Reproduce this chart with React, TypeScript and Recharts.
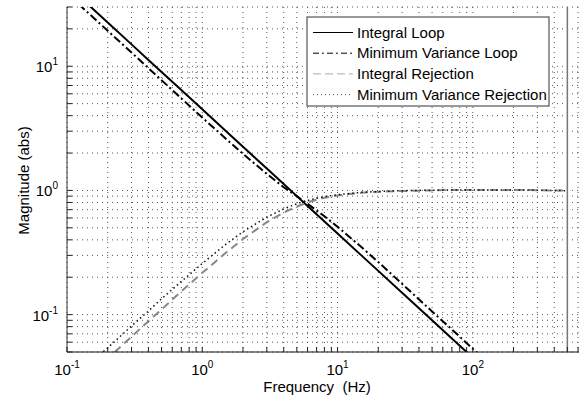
import { LineChart, Line, XAxis, YAxis, CartesianGrid, ReferenceLine } from 'recharts'

// frequency grid (Hz) and magnitudes
const freq = [0.1, 0.15, 0.2, 0.3, 0.4, 0.5, 0.7, 1, 1.5, 2, 3, 4, 5, 6, 7, 8, 10, 15, 20, 30, 50, 70, 100, 150, 200, 300, 500]
const integralLoop = [45, 30, 22.5, 15, 11.25, 9, 6.43, 4.5, 3, 2.25, 1.5, 1.125, 0.9, 0.75, 0.643, 0.563, 0.45, 0.3, 0.225, 0.15, 0.09, 0.0643, 0.045, 0.03, 0.0225, 0.015, 0.009]
const minVarLoop = [38.6, 25.7, 19.3, 12.9, 9.65, 7.72, 5.51, 3.86, 2.6, 1.97, 1.36, 1.06, 0.9, 0.78, 0.69, 0.62, 0.51, 0.35, 0.265, 0.177, 0.106, 0.076, 0.053, 0.0353, 0.0265, 0.0177, 0.0106]
const integralRej = [0.022, 0.033, 0.0444, 0.0665, 0.0885, 0.11, 0.154, 0.217, 0.316, 0.406, 0.555, 0.664, 0.743, 0.8, 0.841, 0.872, 0.912, 0.958, 0.976, 0.99, 1.0, 1.01, 1.01, 1.01, 1.01, 1.005, 0.995]
const minVarRej = [0.027, 0.041, 0.054, 0.081, 0.107, 0.134, 0.185, 0.258, 0.37, 0.465, 0.61, 0.71, 0.78, 0.83, 0.865, 0.89, 0.925, 0.965, 0.98, 0.995, 1.005, 1.01, 1.01, 1.01, 1.01, 1.005, 0.995]

const xTicks = [
  0.1, 0.2, 0.3, 0.4, 0.5, 0.6, 0.7, 0.8, 0.9,
  1, 2, 3, 4, 5, 6, 7, 8, 9,
  10, 20, 30, 40, 50, 60, 70, 80, 90,
  100, 200, 300, 400, 500, 600,
]
const yTicks = [
  0.05, 0.06, 0.07, 0.08, 0.09,
  0.1, 0.2, 0.3, 0.4, 0.5, 0.6, 0.7, 0.8, 0.9,
  1, 2, 3, 4, 5, 6, 7, 8, 9,
  10, 20, 30,
]
const decadeExp: Record<string, string> = { '0.1': '-1', '1': '0', '10': '1', '100': '2' }

const FONT = '"Liberation Sans", Arial, Helvetica, sans-serif'

const series = [
  { key: 'integralLoop', name: 'Integral Loop', color: '#000', width: 2, dash: undefined, legendColor: '#000', legendDash: undefined },
  { key: 'minVarLoop', name: 'Minimum Variance Loop', color: '#000', width: 2, dash: '8 3 2 3', legendColor: '#000', legendDash: '6 3 2 3' },
  { key: 'integralRej', name: 'Integral Rejection', color: '#888', width: 2, dash: '8 5', legendColor: '#aaa', legendDash: '8 4' },
  { key: 'minVarRej', name: 'Minimum Variance Rejection', color: '#111', width: 1.5, dash: '1.5 3', legendColor: '#555', legendDash: '1 3' },
]

const data = freq.map((f, i) => ({
  f,
  integralLoop: integralLoop[i],
  minVarLoop: minVarLoop[i],
  integralRej: integralRej[i],
  minVarRej: minVarRej[i],
}))

function BottomTick(props: any) {
  const { x, y, payload } = props
  const exp = decadeExp[String(payload.value)]
  return (
    <g>
      <line x1={x} y1={y} x2={x} y2={y - 5} stroke="#222" />
      {exp !== undefined && (
        <text x={x} y={y + 23} textAnchor="middle" fontSize={15} fontFamily={FONT} fill="#000">
          <tspan>10</tspan>
          <tspan dy={-7} fontSize={10}>{exp}</tspan>
        </text>
      )}
    </g>
  )
}

function TopTick(props: any) {
  const { x, y } = props
  return <line x1={x} y1={y} x2={x} y2={y + 5} stroke="#222" />
}

function LeftTick(props: any) {
  const { x, y, payload } = props
  const exp = decadeExp[String(payload.value)]
  return (
    <g>
      <line x1={x} y1={y} x2={x + 5} y2={y} stroke="#222" />
      {exp !== undefined && (
        <text x={x - 9} y={y + 6} textAnchor="end" fontSize={15} fontFamily={FONT} fill="#000">
          <tspan>10</tspan>
          <tspan dy={-7} fontSize={10}>{exp}</tspan>
        </text>
      )}
    </g>
  )
}

function LegendBox() {
  return (
    <svg width={244} height={91} style={{ position: 'absolute', left: 306, top: 16 }}>
      <rect x={1} y={1} width={242} height={89} fill="#fff" stroke="#333" strokeWidth={1} />
      {series.map((s, i) => {
        const cy = 16.5 + i * 20.7
        return (
          <g key={s.key}>
            <line x1={7} y1={cy} x2={47} y2={cy} stroke={s.legendColor} strokeWidth={1} strokeDasharray={s.legendDash} />
            <text x={51} y={cy + 5} fontSize={15} fontFamily={FONT} fill="#000">{s.name}</text>
          </g>
        )
      })}
    </svg>
  )
}

export default function App() {
  return (
    <div style={{ position: 'absolute', left: 0, top: 0, width: 579, height: 397, overflow: 'hidden', background: '#fff' }}>
      <LineChart width={590} height={397} data={data} margin={{ top: 7, right: 10, bottom: 0, left: 0 }}>
        <CartesianGrid stroke="#555" strokeDasharray="1 4" />
        <XAxis
          dataKey="f"
          type="number"
          scale="log"
          domain={[0.1, 620]}
          allowDataOverflow
          ticks={xTicks}
          interval={0}
          height={45}
          tickSize={0}
          tickMargin={0}
          tickLine={false}
          axisLine={{ stroke: '#111', strokeWidth: 1 }}
          tick={<BottomTick />}
          label={{
            content: (p: any) => (
              <text
                x={p.viewBox.x + 250}
                y={p.viewBox.y + 40}
                textAnchor="middle"
                fontSize={15}
                fontFamily={FONT}
                fill="#000"
              >
                {'Frequency\u00a0\u00a0(Hz)'}
              </text>
            ),
          }}
        />
        <XAxis
          xAxisId="top"
          orientation="top"
          dataKey="f"
          type="number"
          scale="log"
          domain={[0.1, 620]}
          allowDataOverflow
          ticks={xTicks}
          interval={0}
          height={0}
          tickSize={0}
          tickMargin={0}
          tickLine={false}
          axisLine={{ stroke: '#111', strokeWidth: 1 }}
          tick={<TopTick />}
        />
        <YAxis
          type="number"
          scale="log"
          domain={[0.05, 30]}
          allowDataOverflow
          ticks={yTicks}
          interval={0}
          width={67}
          tickSize={0}
          tickMargin={0}
          tickLine={false}
          axisLine={{ stroke: '#333', strokeWidth: 1 }}
          tick={<LeftTick />}
          label={{
            content: (p: any) => {
              const cx = p.viewBox.x + 29
              const cy = p.viewBox.y + p.viewBox.height / 2 + 1
              return (
                <text x={cx} y={cy} transform={`rotate(-90 ${cx} ${cy})`} textAnchor="middle" fontSize={15} fontFamily={FONT} fill="#000">
                  Magnitude (abs)
                </text>
              )
            },
          }}
        />
        {series.map((s) => (
          <Line
            key={s.key}
            dataKey={s.key}
            name={s.name}
            type="linear"
            stroke={s.color}
            strokeWidth={s.width}
            strokeDasharray={s.dash}
            dot={false}
            activeDot={false}
            isAnimationActive={false}
          />
        ))}
        <ReferenceLine x={500} stroke="#777" strokeWidth={1.5} />
      </LineChart>
      <LegendBox />
    </div>
  )
}
